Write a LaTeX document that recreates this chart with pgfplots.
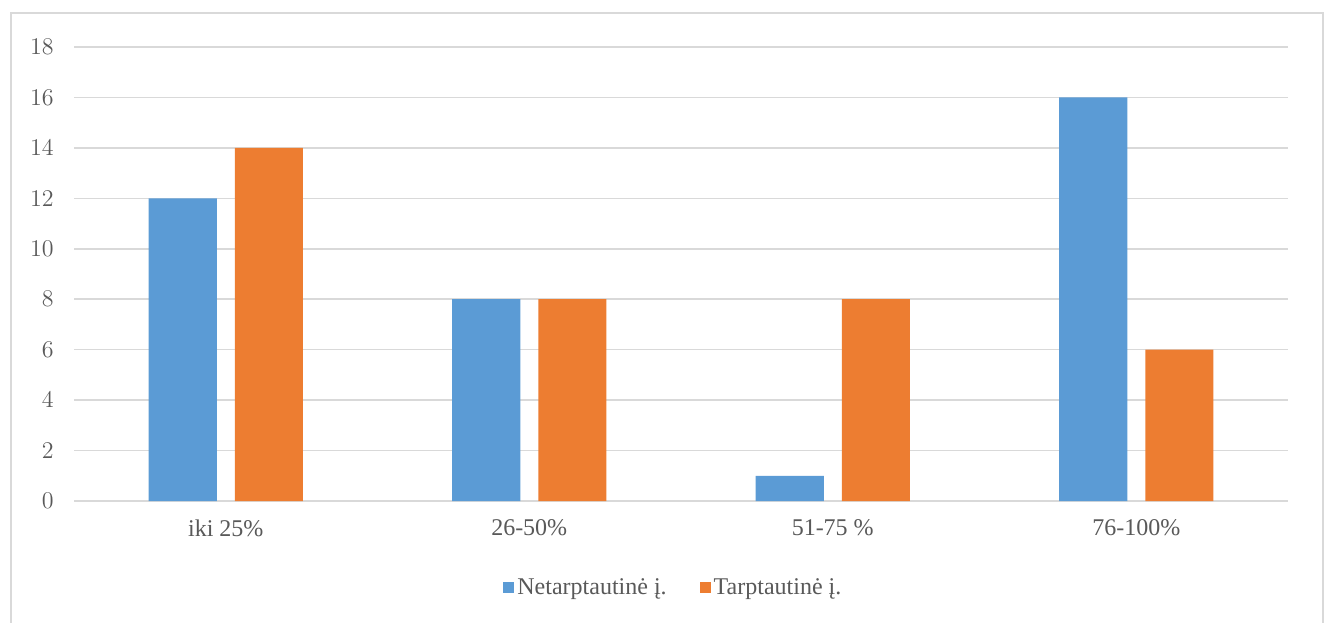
\documentclass[border=0pt]{standalone}
\usepackage{fontspec}
\setmainfont{Liberation Serif}
\usepackage{pgfplots}
\pgfplotsset{compat=1.18}
\definecolor{cblue}{HTML}{5B9BD5}
\definecolor{corange}{HTML}{ED7D31}
\definecolor{gridc}{HTML}{D9D9D9}
\definecolor{txt}{HTML}{595959}
\begin{document}
\begin{tikzpicture}
\useasboundingbox (0pt,0pt) rectangle (664.5pt,311pt);
\draw[gridc, line width=0.75pt] (5.5pt,-2pt) -- (5.5pt,304.5pt) -- (661.5pt,304.5pt) -- (661.5pt,-2pt);
\begin{axis}[
  at={(37pt,60.5pt)}, anchor=south west,
  scale only axis, width=607pt, height=227pt,
  xmin=-0.5, xmax=3.5, ymin=0, ymax=18,
  ytick={0,2,...,18}, xtick={0,1,2,3},
  xticklabels={iki 25\%, 26-50\%, 51-75 \%, 76-100\%},
  ybar=9pt, bar width=34pt,
  axis line style={draw=none}, major tick length=0pt,
  ymajorgrids, grid style={gridc, line width=0.75pt},
  tick label style={font=\fontsize{12}{14}\selectfont, text=txt},
  yticklabel style={inner sep=0pt, xshift=-10pt},
  xticklabel style={inner sep=0pt, yshift=-9pt},
  legend columns=2,
  legend style={at={(0.3534,-0.1915)}, anchor=west, draw=none, fill=none, inner sep=0pt,
    font=\fontsize{12}{14}\selectfont, text=txt,
    nodes={inner sep=1pt},
    /tikz/every odd column/.append style={column sep=0.5pt},
    /tikz/every even column/.append style={column sep=15.5pt}},
]
\addplot[fill=cblue, draw=none, legend image code/.code={\fill[cblue] (0pt,-2.75pt) rectangle (5.5pt,2.75pt);}] coordinates {(0,12) (1,8) (2,1) (3,16)};
\addplot[fill=corange, draw=none, legend image code/.code={\fill[corange] (0pt,-2.75pt) rectangle (5.5pt,2.75pt);}] coordinates {(0,14) (1,8) (2,8) (3,6)};
\legend{Netarptautinė į., Tarptautinė į.}
\end{axis}
\end{tikzpicture}
\end{document}
